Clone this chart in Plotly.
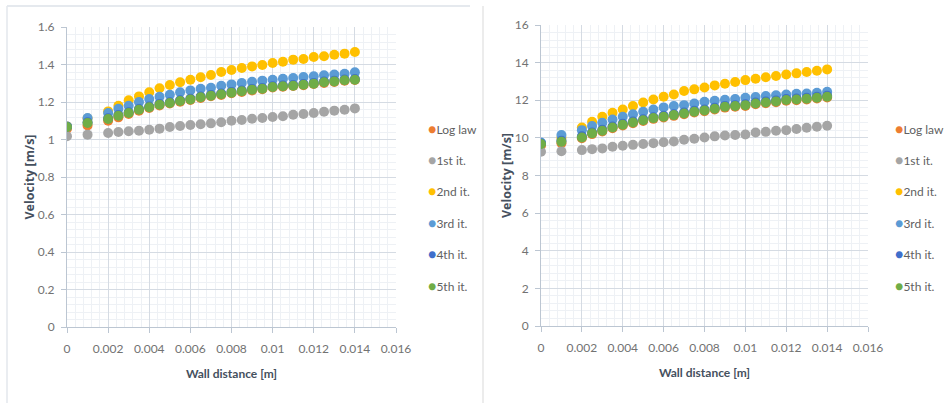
import plotly.graph_objects as go

# Wall distance [m] of the sampled points
wall_distance = [0, 0.001, 0.002, 0.0025, 0.003, 0.0035, 0.004, 0.0045, 0.005,
                 0.0055, 0.006, 0.0065, 0.007, 0.0075, 0.008, 0.0085, 0.009,
                 0.0095, 0.01, 0.0105, 0.011, 0.0115, 0.012, 0.0125, 0.013,
                 0.0135, 0.014]

series_names = ["Log law", "1st it.", "2nd it.", "3rd it.", "4th it.", "5th it."]
series_colors = ["#ED7D31", "#A5A5A5", "#FFC000", "#5B9BD5", "#3F6FCB", "#70AD47"]

# Left case: velocity [m/s]
left_log_law = [1.058, 1.075, 1.100, 1.118, 1.136, 1.154, 1.168, 1.182, 1.192,
                1.202, 1.211, 1.222, 1.231, 1.238, 1.247, 1.254, 1.262, 1.268,
                1.277, 1.281, 1.285, 1.290, 1.296, 1.302, 1.307, 1.313, 1.317]
left_it1 = [1.017, 1.026, 1.035, 1.040, 1.044, 1.047, 1.052, 1.058, 1.067,
            1.072, 1.077, 1.081, 1.086, 1.092, 1.100, 1.104, 1.111, 1.115,
            1.120, 1.124, 1.132, 1.136, 1.141, 1.148, 1.154, 1.159, 1.166]
left_it2 = [1.070, 1.112, 1.150, 1.180, 1.209, 1.230, 1.252, 1.273, 1.291,
            1.305, 1.319, 1.332, 1.344, 1.360, 1.371, 1.381, 1.390, 1.397,
            1.408, 1.415, 1.426, 1.429, 1.440, 1.444, 1.452, 1.458, 1.467]
left_it3 = [1.070, 1.115, 1.141, 1.164, 1.180, 1.200, 1.216, 1.228, 1.239,
            1.252, 1.262, 1.271, 1.276, 1.287, 1.294, 1.301, 1.308, 1.314,
            1.319, 1.324, 1.328, 1.333, 1.337, 1.342, 1.346, 1.351, 1.358]
left_it4 = [1.068, 1.092, 1.113, 1.131, 1.145, 1.163, 1.176, 1.190, 1.199,
            1.209, 1.218, 1.229, 1.238, 1.245, 1.254, 1.261, 1.270, 1.275,
            1.284, 1.288, 1.291, 1.296, 1.302, 1.309, 1.314, 1.320, 1.323]
left_it5 = [1.067, 1.088, 1.109, 1.127, 1.141, 1.159, 1.172, 1.186, 1.195,
            1.205, 1.214, 1.225, 1.234, 1.241, 1.250, 1.257, 1.266, 1.271,
            1.280, 1.284, 1.287, 1.292, 1.298, 1.305, 1.310, 1.316, 1.319]

# Right case: velocity [m/s]
right_log_law = [9.60, 9.72, 9.98, 10.20, 10.34, 10.51, 10.66, 10.78, 10.90,
                 11.01, 11.08, 11.17, 11.26, 11.35, 11.42, 11.51, 11.61, 11.65,
                 11.70, 11.79, 11.84, 11.90, 11.97, 12.00, 12.04, 12.09, 12.15]
right_it1 = [9.26, 9.29, 9.35, 9.40, 9.44, 9.53, 9.58, 9.63, 9.67,
             9.72, 9.77, 9.81, 9.90, 9.95, 10.02, 10.08, 10.13, 10.15,
             10.18, 10.29, 10.32, 10.38, 10.41, 10.47, 10.54, 10.59, 10.64]
right_it2 = [9.70, 10.00, 10.55, 10.86, 11.12, 11.33, 11.51, 11.69, 11.88,
             12.04, 12.19, 12.31, 12.49, 12.58, 12.68, 12.79, 12.88, 12.97,
             13.07, 13.14, 13.22, 13.29, 13.37, 13.43, 13.50, 13.57, 13.64]
right_it3 = [9.75, 10.15, 10.41, 10.63, 10.80, 10.98, 11.12, 11.26, 11.39,
             11.51, 11.62, 11.69, 11.74, 11.83, 11.92, 11.97, 12.03, 12.06,
             12.13, 12.17, 12.22, 12.26, 12.31, 12.35, 12.36, 12.40, 12.45]
right_it4 = [9.70, 9.85, 10.08, 10.29, 10.43, 10.60, 10.75, 10.87, 10.99,
             11.10, 11.17, 11.26, 11.35, 11.44, 11.51, 11.60, 11.70, 11.74,
             11.79, 11.88, 11.93, 11.99, 12.06, 12.09, 12.13, 12.18, 12.24]
right_it5 = [9.67, 9.79, 10.02, 10.24, 10.38, 10.55, 10.70, 10.82, 10.94,
             11.05, 11.12, 11.21, 11.30, 11.39, 11.46, 11.55, 11.65, 11.69,
             11.74, 11.83, 11.88, 11.94, 12.01, 12.04, 12.08, 12.13, 12.19]

left_series = [left_log_law, left_it1, left_it2, left_it3, left_it4, left_it5]
right_series = [right_log_law, right_it1, right_it2, right_it3, right_it4, right_it5]

x_ticks = [0, 0.002, 0.004, 0.006, 0.008, 0.01, 0.012, 0.014, 0.016]
x_tick_text = ["0", "0.002", "0.004", "0.006", "0.008", "0.01", "0.012", "0.014", "0.016"]
left_y_ticks = [0, 0.2, 0.4, 0.6, 0.8, 1, 1.2, 1.4, 1.6]
left_y_text = ["0", "0.2", "0.4", "0.6", "0.8", "1", "1.2", "1.4", "1.6"]
right_y_ticks = [0, 2, 4, 6, 8, 10, 12, 14, 16]

W, H = 947, 403
TICK_FONT = dict(family="Lato, sans-serif", size=12, color="#727272")
X_TITLE_FONT = dict(family="Lato, sans-serif", size=12, color="#45505e")
Y_TITLE_FONT = dict(family="Open Sans, sans-serif", size=12.5, color="#45505e")
KEY_FONT = dict(family="Lato, sans-serif", size=12, color="#5f5f5f")
GRID = "#d5dbe3"
MINOR = "#eef1f5"
AXIS = "#bcc6d2"

fig = go.Figure()

for name, color, ys in zip(series_names, series_colors, left_series):
    fig.add_trace(go.Scatter(
        x=wall_distance, y=ys, mode="markers", name=name,
        marker=dict(color=color, size=10), xaxis="x", yaxis="y",
        showlegend=False))
for name, color, ys in zip(series_names, series_colors, right_series):
    fig.add_trace(go.Scatter(
        x=wall_distance, y=ys, mode="markers", name=name,
        marker=dict(color=color, size=10), xaxis="x2", yaxis="y2",
        showlegend=False))


def px_x(p):
    return p / W


def px_y(p):
    return 1 - p / H


def x_axis(domain, anchor):
    return dict(
        domain=domain, anchor=anchor, range=[0, 0.016], automargin=False,
        tickvals=x_ticks, ticktext=x_tick_text, tickfont=TICK_FONT,
        showgrid=True, gridcolor=GRID, gridwidth=1,
        minor=dict(dtick=0.0004, tick0=0, showgrid=True, gridcolor=MINOR, gridwidth=1),
        showline=True, linecolor=AXIS, linewidth=1,
        ticks="outside", ticklen=5, tickcolor=AXIS, ticklabelstandoff=6,
        zeroline=False, fixedrange=True,
        title=dict(text="<b>Wall distance [m]</b>", font=X_TITLE_FONT, standoff=14),
    )


def y_axis(domain, anchor, rng, ticks, text, minor_dtick):
    return dict(
        domain=domain, anchor=anchor, range=rng, automargin=False,
        tickvals=ticks, ticktext=text, tickfont=TICK_FONT,
        showgrid=True, gridcolor=GRID, gridwidth=1,
        minor=dict(dtick=minor_dtick, tick0=0, showgrid=True, gridcolor=MINOR, gridwidth=1),
        showline=True, linecolor=AXIS, linewidth=1,
        ticks="outside", ticklen=5, tickcolor=AXIS, ticklabelstandoff=4,
        zeroline=False, fixedrange=True,
        title=dict(text="<b>Velocity [m/s]</b>", font=Y_TITLE_FONT, standoff=0),
    )


# Series keys: a coloured dot followed by the series name, one column per panel
keys = []
for left_px in (426, 893):
    for i, (name, color) in enumerate(zip(series_names, series_colors)):
        keys.append(dict(
            xref="paper", yref="paper", x=px_x(left_px), y=px_y(128 + 31.5 * i),
            xanchor="left", yanchor="middle", showarrow=False, font=KEY_FONT,
            text=f'<span style="color:{color};font-size:14px">●</span>{name}'))

fig.update_layout(
    width=W, height=H,
    margin=dict(l=0, r=0, t=0, b=0, autoexpand=False),
    paper_bgcolor="white", plot_bgcolor="white",
    showlegend=False,
    xaxis=x_axis([px_x(67), px_x(396)], "y"),
    yaxis=y_axis([px_y(327), px_y(27)], "x", [0, 1.6], left_y_ticks, left_y_text, 0.04),
    xaxis2=x_axis([px_x(541), px_x(868)], "y2"),
    yaxis2=y_axis([px_y(326), px_y(25)], "x2", [0, 16], right_y_ticks,
                  [str(v) for v in right_y_ticks], 0.4),
    annotations=keys,
    shapes=[
        dict(type="line", xref="paper", yref="paper", x0=px_x(7), x1=px_x(470),
             y0=px_y(6), y1=px_y(6), line=dict(color="#dde2e8", width=1.5)),
        dict(type="line", xref="paper", yref="paper", x0=px_x(7), x1=px_x(7),
             y0=px_y(6), y1=0, line=dict(color="#e3e7ec", width=1.5)),
        dict(type="line", xref="paper", yref="paper", x0=px_x(483), x1=px_x(483),
             y0=px_y(6), y1=0, line=dict(color="#e6e6e6", width=1.5)),
    ],
)

fig.write_html("out.html")
